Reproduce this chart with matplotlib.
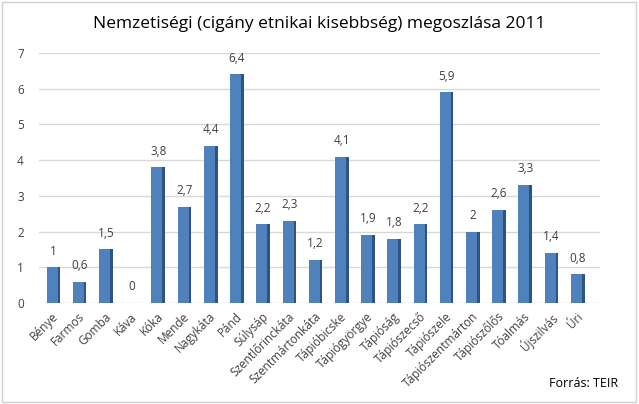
import matplotlib
matplotlib.use('Agg')
import matplotlib.pyplot as plt
from matplotlib.patches import Rectangle

telepulesek = ['Bénye', 'Farmos', 'Gomba', 'Káva', 'Kóka', 'Mende', 'Nagykáta', 'Pánd',
               'Súlysáp', 'Szentlőrinckáta', 'Szentmártonkáta', 'Tápióbicske',
               'Tápiógyörgye', 'Tápióság', 'Tápiószecső', 'Tápiószele',
               'Tápiószentmárton', 'Tápiószőlős', 'Tóalmás', 'Újszilvás', 'Úri']
arany = [1, 0.6, 1.5, 0, 3.8, 2.7, 4.4, 6.4, 2.2, 2.3, 1.2, 4.1,
         1.9, 1.8, 2.2, 5.9, 2, 2.6, 3.3, 1.4, 0.8]
y_ticks = [0, 1, 2, 3, 4, 5, 6, 7]

plt.rcParams['font.family'] = ['Open Sans', 'DejaVu Sans']

fig = plt.figure(figsize=(6.39, 4.04), dpi=100)
fig.patches.append(Rectangle((0.003, 0.004), 0.992, 0.99, transform=fig.transFigure,
                             fill=False, edgecolor='#d0d0d0', linewidth=1))

ax = fig.add_axes([39 / 639, 1 - 303 / 404, 561 / 639, 250 / 404])

x = list(range(len(telepulesek)))
# front face + darker side to mimic the Excel 3D columns
ax.bar(x, arany, width=0.42, color='#4f81bd', zorder=3)
ax.bar([i + 0.26 for i in x], arany, width=0.1, color='#2f5483', zorder=2)

for i, v in zip(x, arany):
    ax.annotate(f'{v:g}'.replace('.', ','), (i + 0.05, v), xytext=(0, 7),
                textcoords='offset points', ha='center', va='bottom',
                fontsize=8.5, color='#404040')

ax.set_xlim(-0.5, 20.9)
ax.set_ylim(0, 7)
ax.set_yticks(y_ticks)
ax.set_yticklabels([str(t) for t in y_ticks], fontsize=8.5, color='#404040')
ax.tick_params(axis='y', length=0, pad=11)
ax.set_xticks(x)
ax.set_xticklabels(telepulesek, rotation=45, ha='right', rotation_mode='anchor',
                   fontsize=8.5, color='#404040')
ax.tick_params(axis='x', length=0, pad=5)
ax.grid(axis='y', color='#d9d9d9', linewidth=1, zorder=0)
for s in ax.spines.values():
    s.set_visible(False)

fig.text(0.5, 0.94, 'Nemzetiségi (cigány etnikai kisebbség) megoszlása 2011',
         ha='center', va='center', fontsize=12.5, color='#000000')
fig.text(0.968, 0.05, 'Forrás: TEIR', ha='right', va='center', fontsize=9, color='#000000')

fig.savefig('out.png', dpi=100)
plt.close(fig)
